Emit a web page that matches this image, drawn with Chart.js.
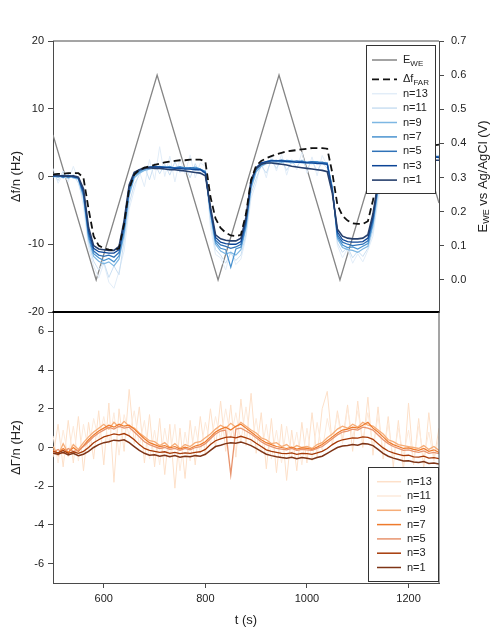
<!DOCTYPE html>
<html lang="en">
<head>
  <meta charset="UTF-8" />
  <title>EQCM frequency and dissipation response</title>
  <style>
    body {
      margin: 0;
      background-color: white;
    }
    .box {
      position: absolute;
      left: 0;
    }
  </style>
</head>
<body>
  <div class="box" style="top:0"><canvas id="top" width="494" height="330"></canvas></div>
  <div class="box" style="top:300px"><canvas id="bot" width="494" height="331"></canvas></div>

  <script src="https://cdn.jsdelivr.net/npm/chart.js"></script>
  <script>
    // time grid (s), one value every 10 s
    const tGrid = [];
    for (let t = 500; t <= 1260; t += 10) tGrid.push(t);

    // potential sweep E_WE (V vs Ag/AgCl), corners only
    const eTimes  = [500, 585, 705, 825, 945, 1065, 1185, 1260];
    const eValues = [0.425, 0.0, 0.6, 0.0, 0.6, 0.0, 0.6, 0.225];

    // Faradaic frequency change (Hz)
    const dfFar = [0.3, 0.4, 0.4, 0.5, 0.5, 0.5, -0.2, -4.8, -8.8, -10.2,
      -10.6, -10.8, -10.9, -10.6, -7.0, -1.8, 0.3, 1.0, 1.3, 1.5,
      1.7, 1.9, 2.1, 2.2, 2.3, 2.4, 2.4, 2.5, 2.5, 2.5,
      2.2, -3.0, -6.2, -7.6, -8.3, -8.7, -8.8, -8.6, -5.5, -0.5,
      1.6, 2.3, 2.7, 3.0, 3.3, 3.5, 3.7, 3.8, 3.9, 4.0,
      4.1, 4.2, 4.2, 4.2, 4.1, 0.5, -4.2, -5.8, -6.5, -6.9,
      -7.0, -7.0, -6.6, -3.5, 0.2, 2.0, 3.0, 3.5, 3.8, 4.0,
      4.2, 4.3, 4.4, 4.5, 4.6, 4.6, 4.7];

    // df/n per overtone (Hz)
    const df1 = [0.2, 0.1, 0.1, 0.0, 0.1, -0.1, -1.8, -7.5, -10.2, -10.7,
      -10.8, -10.9, -10.9, -10.3, -6.5, -1.2, 0.6, 1.0, 1.2, 1.3,
      1.2, 1.2, 1.1, 1.0, 1.0, 0.9, 0.8, 0.7, 0.6, 0.5,
      0.1, -4.5, -8.6, -9.2, -9.4, -9.5, -9.5, -9.1, -6.0, -0.5,
      1.2, 1.8, 2.0, 2.0, 1.9, 1.8, 1.7, 1.5, 1.4, 1.3,
      1.2, 1.1, 1.0, 0.9, 0.7, -2.5, -7.8, -8.8, -9.1, -9.2,
      -9.2, -9.1, -8.6, -5.5, -0.8, 1.2, 2.0, 2.3, 2.5, 2.6,
      2.6, 2.6, 2.6, 2.5, 2.5, 2.4, 2.4];
    const df3 = [0.1, 0.2, 0.0, 0.1, 0.0, -0.2, -2.2, -8.0, -10.6, -11.1,
      -11.2, -11.3, -11.3, -10.8, -7.0, -1.5, 0.5, 1.0, 1.2, 1.4,
      1.4, 1.4, 1.3, 1.3, 1.2, 1.2, 1.1, 1.1, 1.0, 1.0,
      0.5, -4.8, -9.0, -9.7, -9.9, -10.0, -10.0, -9.6, -6.4, -0.8,
      1.3, 2.0, 2.2, 2.3, 2.3, 2.3, 2.2, 2.2, 2.1, 2.1,
      2.0, 2.0, 1.9, 1.9, 1.8, -2.2, -8.2, -9.3, -9.6, -9.7,
      -9.7, -9.6, -9.1, -6.0, -1.0, 1.2, 2.2, 2.6, 2.8, 2.9,
      3.0, 3.0, 3.0, 2.9, 2.9, 2.9, 2.8];
    const df5 = [0.0, 0.1, -0.1, 0.2, -0.1, -0.2, -2.5, -8.4, -11.0, -11.6,
      -11.8, -11.6, -11.9, -11.2, -7.5, -1.9, 0.3, 0.9, 1.2, 1.3,
      1.5, 1.4, 1.4, 1.3, 1.3, 1.4, 1.2, 1.3, 1.2, 1.1,
      0.6, -5.0, -9.4, -10.1, -10.3, -10.6, -10.4, -10.0, -6.8, -1.0,
      1.2, 1.9, 2.2, 2.4, 2.3, 2.4, 2.3, 2.2, 2.3, 2.2,
      2.1, 2.2, 2.0, 2.1, 1.9, -2.0, -8.6, -9.7, -10.0, -10.2,
      -10.1, -10.0, -9.5, -6.4, -1.3, 1.0, 2.1, 2.6, 2.8, 3.0,
      3.0, 3.1, 3.0, 3.0, 2.9, 3.0, 2.9];
    const df7 = [0.1, -0.1, 0.2, -0.2, 0.1, -0.3, -2.8, -8.8, -11.4, -12.0,
      -12.4, -12.1, -12.6, -11.7, -8.0, -2.3, 0.1, 0.7, 1.1, 1.3,
      1.4, 1.5, 1.3, 1.5, 1.2, 1.4, 1.3, 1.2, 1.4, 1.1,
      0.7, -5.3, -9.7, -10.6, -10.8, -13.4, -10.7, -10.4, -7.2, -1.3,
      1.0, 1.7, 2.1, 2.3, 2.4, 2.2, 2.4, 2.3, 2.1, 2.3,
      2.1, 2.2, 2.2, 2.0, 2.0, -1.8, -8.9, -10.1, -10.5, -10.4,
      -10.7, -10.3, -9.9, -6.8, -1.6, 0.8, 2.0, 2.5, 2.8, 2.9,
      3.1, 3.0, 3.1, 2.9, 3.0, 2.9, 3.0];
    const df9 = [-0.1, 0.2, -0.2, 0.1, -0.2, -0.4, -3.0, -9.2, -11.8, -12.5,
      -12.9, -12.6, -13.2, -12.2, -8.6, -2.8, -0.2, 0.5, 0.9, 1.1,
      1.3, 1.2, 1.4, 1.2, 1.3, 1.1, 1.3, 1.1, 1.2, 1.0,
      0.8, -5.5, -10.0, -11.0, -11.4, -11.2, -11.6, -10.8, -7.6, -1.8,
      0.7, 1.5, 1.9, 2.1, 2.2, 2.1, 2.2, 2.0, 2.1, 2.0,
      2.0, 1.9, 2.1, 1.9, 1.8, -1.6, -9.2, -10.5, -10.8, -10.9,
      -11.2, -10.7, -10.3, -7.2, -2.0, 0.5, 1.8, 2.4, 2.7, 2.8,
      2.9, 3.0, 2.9, 2.9, 2.8, 2.9, 2.8];
    const df11 = [0.5, -0.6, 0.8, -0.4, 0.3, -1.0, -3.5, -9.8, -12.5, -13.8,
      -12.6, -14.9, -13.2, -14.5, -9.5, -4.0, -1.2, 0.2, 1.5, -0.5,
      2.0, 0.4, 1.8, 0.2, 2.2, 0.6, 1.4, -0.2, 1.9, 0.3,
      0.9, -6.5, -10.8, -11.6, -12.8, -11.3, -12.4, -11.6, -8.5, -2.5,
      -0.3, 1.6, 0.5, 2.4, 1.2, 2.6, 0.9, 2.2, 1.4, 2.5,
      1.1, 2.3, 0.8, 2.1, 1.2, -1.5, -9.8, -11.2, -10.4, -12.0,
      -11.0, -11.8, -10.6, -8.0, -2.8, 0.2, 1.5, 2.8, 2.0, 3.1,
      2.4, 3.3, 2.6, 3.0, 2.5, 3.2, 2.7];
    const df13 = [1.2, -1.0, 0.4, -0.8, 1.5, -0.5, -4.5, -10.5, -13.2, -15.0,
      -12.8, -15.6, -16.5, -14.0, -11.0, -4.8, -2.0, 0.8, -1.5, 2.5,
      -0.5, 4.4, 0.0, 3.0, -0.8, 2.6, 0.4, 3.2, -0.2, 2.0,
      1.5, -7.5, -11.5, -12.0, -13.8, -11.0, -13.0, -12.2, -9.0, -3.2,
      -1.0, 2.2, -0.2, 3.0, 0.8, 3.3, 0.2, 2.6, 1.0, 3.6,
      0.5, 2.9, 0.1, 3.1, 1.6, -1.2, -10.2, -12.0, -10.6, -12.8,
      -11.4, -12.6, -10.9, -8.8, -3.5, -0.2, 1.2, 3.2, 1.6, 3.6,
      2.0, 3.8, 2.2, 3.5, 2.1, 3.9, 2.5];

    // dGamma/n per overtone (Hz)
    const dg1 = [-0.30, -0.35, -0.25, -0.38, -0.30, -0.42, -0.35, -0.20, 0.00, 0.15,
      0.25, 0.30, 0.38, 0.35, 0.40, 0.25, 0.05, -0.15, -0.30, -0.40,
      -0.38, -0.45, -0.40, -0.48, -0.42, -0.50, -0.45, -0.48, -0.42, -0.45,
      -0.35, -0.15, 0.05, 0.12, 0.20, 0.25, 0.22, 0.28, 0.20, 0.10,
      -0.05, -0.20, -0.35, -0.42, -0.48, -0.52, -0.55, -0.50, -0.58, -0.52,
      -0.55, -0.60, -0.52, -0.45, -0.30, -0.15, 0.00, 0.08, 0.10, 0.15,
      0.12, 0.20, 0.18, 0.10, -0.10, -0.30, -0.45, -0.55, -0.62, -0.70,
      -0.68, -0.75, -0.78, -0.72, -0.82, -0.80, -0.85];
    const dg3 = [-0.20, -0.28, -0.15, -0.30, -0.22, -0.30, -0.20, 0.00, 0.25, 0.40,
      0.55, 0.62, 0.70, 0.65, 0.72, 0.60, 0.40, 0.15, -0.05, -0.15,
      -0.20, -0.25, -0.22, -0.30, -0.25, -0.32, -0.28, -0.30, -0.25, -0.22,
      -0.10, 0.15, 0.35, 0.45, 0.52, 0.55, 0.50, 0.58, 0.50, 0.40,
      0.22, 0.05, -0.12, -0.20, -0.25, -0.30, -0.32, -0.28, -0.35, -0.30,
      -0.32, -0.35, -0.28, -0.20, -0.05, 0.15, 0.30, 0.40, 0.45, 0.50,
      0.48, 0.55, 0.52, 0.42, 0.20, -0.02, -0.18, -0.28, -0.35, -0.42,
      -0.40, -0.48, -0.50, -0.45, -0.55, -0.52, -0.58];
    const dg5 = [-0.25, -0.10, -0.30, -0.05, -0.20, -0.15, 0.05, 0.30, 0.55, 0.75,
      0.90, 1.05, 0.95, 1.10, 1.00, 1.05, 0.80, 0.55, 0.30, 0.15,
      0.05, -0.05, 0.00, -0.10, -0.05, -0.15, -0.05, -0.12, 0.00, 0.05,
      0.20, 0.45, 0.70, 0.85, 0.90, -1.40, 0.95, 1.00, 0.85, 0.70,
      0.50, 0.30, 0.15, 0.05, -0.05, -0.08, -0.12, -0.05, -0.15, -0.10,
      -0.12, -0.15, -0.05, 0.05, 0.25, 0.45, 0.65, 0.80, 0.85, 0.95,
      0.90, 1.05, 1.00, 0.90, 0.65, 0.40, 0.20, 0.05, -0.05, -0.15,
      -0.12, -0.20, -0.25, -0.18, -0.30, -0.25, -0.32];
    const dg7 = [-0.15, -0.30, -0.05, -0.25, 0.00, -0.20, 0.10, 0.40, 0.65, 0.85,
      1.00, 1.15, 1.05, 1.20, 1.10, 1.15, 0.95, 0.70, 0.45, 0.25,
      0.15, 0.05, 0.10, -0.02, 0.05, -0.08, 0.02, -0.05, 0.08, 0.15,
      0.30, 0.55, 0.80, 0.95, 1.05, 0.90, 1.10, 1.20, 1.00, 0.80,
      0.60, 0.40, 0.25, 0.15, 0.05, 0.00, -0.05, 0.02, -0.08, -0.02,
      -0.05, -0.10, 0.02, 0.15, 0.35, 0.55, 0.75, 0.90, 0.95, 1.05,
      1.00, 1.15, 1.30, 1.00, 0.80, 0.55, 0.30, 0.15, 0.05, -0.05,
      -0.02, -0.10, -0.15, -0.05, -0.20, -0.12, -0.25];
    const dg9 = [0.05, -0.40, 0.20, -0.30, 0.15, -0.10, 0.25, 0.55, 0.80, 1.00,
      1.20, 0.95, 1.30, 1.05, 1.35, 1.10, 1.00, 0.75, 0.55, 0.35,
      0.30, 0.10, 0.25, 0.00, 0.20, -0.05, 0.15, 0.05, 0.25, 0.30,
      0.50, 0.70, 0.95, 1.15, 1.00, 1.25, 1.05, 1.30, 1.10, 0.90,
      0.75, 0.50, 0.40, 0.20, 0.25, 0.05, 0.15, -0.05, 0.10, 0.00,
      0.05, -0.05, 0.15, 0.25, 0.50, 0.70, 0.95, 1.10, 1.00, 1.20,
      1.05, 1.30, 1.15, 1.10, 0.90, 0.70, 0.40, 0.30, 0.15, 0.10,
      0.05, 0.00, -0.05, 0.10, -0.10, 0.05, -0.15];
    const dg11 = [0.60, -0.80, 0.90, -0.50, 1.10, -0.70, 1.20, -0.20, 1.50, 0.40,
      1.60, 0.20, 1.80, -0.40, 1.70, 0.60, 1.90, 0.10, 1.40, -0.60,
      0.90, -0.90, 1.00, -0.50, 1.20, -1.20, 0.80, -0.70, 1.10, -0.30,
      1.30, 0.20, 1.60, 0.40, 2.00, 0.50, 1.80, 0.30, 2.10, 0.10,
      1.50, -0.30, 1.20, -0.60, 0.90, -0.80, 1.10, -0.50, 0.80, -0.90,
      1.00, -0.70, 1.30, -0.20, 1.50, 0.30, 1.70, 0.20, 2.00, 0.50,
      1.90, 0.40, 1.80, 0.10, 1.60, -0.20, 1.20, -0.60, 1.00, -0.40,
      0.90, -0.80, 1.10, -0.50, 0.80, -0.70, 0.60];
    const dg13 = [-0.50, 1.20, -1.00, 1.40, -0.80, 1.60, -1.20, 1.30, -0.60, 1.90,
      -0.90, 2.30, -1.80, 2.00, -0.20, 3.00, 0.20, 2.10, -0.80, 1.70,
      -1.00, 1.50, -1.40, 1.20, -2.10, 1.00, -1.60, 1.40, -0.90, 1.60,
      -0.40, 2.00, 0.00, 2.40, -0.20, 2.20, -0.50, 2.50, 0.10, 2.80,
      -0.30, 1.80, -1.10, 1.50, -1.30, 1.20, -1.70, 0.90, -1.20, 1.30,
      -0.80, 1.80, -0.50, 2.00, 2.90, 0.10, 1.90, 0.40, 2.20, -0.20,
      2.40, 0.00, 2.60, -0.40, 2.10, -0.60, 1.60, -1.00, 1.40, -1.20,
      2.30, -0.90, 1.50, -1.10, 1.80, -0.60, 1.00];

    // tick values
    const xTicks = [600, 800, 1000, 1200];
    const dfTicks = [-20, -10, 0, 10, 20];
    const eTicks = [0, 0.1, 0.2, 0.3, 0.4, 0.5, 0.6, 0.7];
    const dgTicks = [-6, -4, -2, 0, 2, 4, 6];

    const FONT = '"Liberation Sans", Arial, sans-serif';
    const AX = '#4a4a4a';

    const pts = (arr) => arr.map((v, i) => ({ x: tGrid[i], y: v }));

    // text with _{sub} parts
    function richParts(s) {
      const parts = [];
      const re = /_\{([^}]*)\}/g;
      let last = 0, m;
      while ((m = re.exec(s))) {
        if (m.index > last) parts.push({ t: s.slice(last, m.index) });
        parts.push({ t: m[1], sub: true });
        last = re.lastIndex;
      }
      if (last < s.length) parts.push({ t: s.slice(last) });
      return parts;
    }
    function drawRich(ctx, s, x, y, size, align) {
      const parts = richParts(s);
      const subSize = Math.round(size * 0.7);
      let w = 0;
      parts.forEach(p => {
        ctx.font = (p.sub ? subSize : size) + 'px ' + FONT;
        p.w = ctx.measureText(p.t).width;
        w += p.w;
      });
      let cx = align === 'center' ? x - w / 2 : x;
      ctx.textAlign = 'left';
      ctx.textBaseline = 'middle';
      parts.forEach(p => {
        ctx.font = (p.sub ? subSize : size) + 'px ' + FONT;
        ctx.fillText(p.t, cx, p.sub ? y + size * 0.3 : y);
        cx += p.w;
      });
    }

    const framePlugin = {
      id: 'frame',
      afterDatasetsDraw(chart, args, opts) {
        const { ctx, chartArea: a } = chart;
        const seg = (x1, y1, x2, y2, c, w) => {
          ctx.beginPath();
          ctx.strokeStyle = c;
          ctx.lineWidth = w;
          ctx.moveTo(x1, y1);
          ctx.lineTo(x2, y2);
          ctx.stroke();
        };
        ctx.save();
        if (opts.top) seg(a.left, a.top, a.right, a.top, opts.top, opts.topWidth || 1);
        if (opts.right) seg(a.right, a.top, a.right, a.bottom, opts.right, 1);
        if (opts.bottom) seg(a.left - 0.5, a.bottom, a.right, a.bottom, opts.bottom, opts.bottomWidth || 1);
        if (opts.rightTitle) {
          ctx.fillStyle = '#222';
          ctx.translate(opts.rightTitleX, (a.top + a.bottom) / 2);
          ctx.rotate(-Math.PI / 2);
          drawRich(ctx, opts.rightTitle, 0, 0, 13, 'center');
        }
        ctx.restore();
      }
    };

    const legendPlugin = {
      id: 'subLegend',
      afterDraw(chart, args, opts) {
        if (!opts.items) return;
        const { ctx, chartArea: a } = chart;
        const L = opts;
        const left = a.right - L.rightGap - L.width;
        const top = L.anchor === 'top' ? a.top + L.gap : a.bottom - L.gap - L.height;
        ctx.save();
        ctx.fillStyle = 'white';
        ctx.fillRect(left, top, L.width, L.height);
        ctx.strokeStyle = '#333';
        ctx.lineWidth = 1;
        ctx.strokeRect(left + 0.5, top + 0.5, L.width - 1, L.height - 1);
        let y = top + L.first;
        L.items.forEach((label, k) => {
          const ds = chart.data.datasets.find(d => d.label === label);
          ctx.beginPath();
          ctx.strokeStyle = ds.borderColor;
          ctx.lineWidth = Math.max(ds.borderWidth, 1.5);
          ctx.setLineDash(ds.borderDash || []);
          ctx.moveTo(left + L.lineX, y);
          ctx.lineTo(left + L.lineX + L.lineLen, y);
          ctx.stroke();
          ctx.setLineDash([]);
          ctx.fillStyle = '#222';
          drawRich(ctx, label, left + L.textX, y, 11, 'left');
          const next = L.items[k + 1];
          y += next && next.includes('_{') ? L.subStep : L.step;
        });
        ctx.restore();
      }
    };

    const tickFont = { family: FONT, size: 11 };
    const titleFont = { family: FONT, size: 13 };
    const axisGrid = { drawOnChartArea: false, drawTicks: true, tickLength: 5, color: AX };
    const fixTicks = (vals) => (scale) => { scale.ticks = vals.map(v => ({ value: v })); };

    const line = (label, data, color, width, order, extra) => Object.assign({
      label: label, data: data, borderColor: color, backgroundColor: color,
      borderWidth: width, pointRadius: 0, tension: 0, fill: false, order: order
    }, extra || {});

    // ---- upper panel: df/n and E_WE ----
    new Chart(document.getElementById('top'), {
      type: 'line',
      data: {
        datasets: [
          line('E_{WE}', eTimes.map((t, i) => ({ x: t, y: eValues[i] })), '#858585', 1.3, 9, { yAxisID: 'yE' }),
          line('Δf_{FAR}', pts(dfFar), '#111', 1.8, 0, { borderDash: [7, 4] }),
          line('n=13', pts(df13), '#e2edf8', 1, 8),
          line('n=11', pts(df11), '#cadff2', 1, 7),
          line('n=9', pts(df9), '#7db7e3', 1.2, 6),
          line('n=7', pts(df7), '#4a93d0', 1.2, 5),
          line('n=5', pts(df5), '#2f72b8', 1.3, 4),
          line('n=3', pts(df3), '#0c4596', 1.3, 3),
          line('n=1', pts(df1), '#263f6c', 1.6, 2)
        ]
      },
      options: {
        responsive: false,
        animation: false,
        layout: { padding: { top: 41, bottom: 18, left: 0, right: 0 } },
        plugins: {
          legend: { display: false },
          tooltip: { enabled: false },
          frame: { top: AX, bottom: '#000', bottomWidth: 2, rightTitle: 'E_{WE} vs Ag/AgCl (V)', rightTitleX: 483 },
          subLegend: {
            items: ['E_{WE}', 'Δf_{FAR}', 'n=13', 'n=11', 'n=9', 'n=7', 'n=5', 'n=3', 'n=1'],
            anchor: 'top', gap: 4, rightGap: 3, width: 70, height: 149,
            first: 15, step: 14.4, subStep: 19.3, lineX: 6, lineLen: 25, textX: 37
          }
        },
        scales: {
          x: { type: 'linear', min: 500, max: 1260, display: false },
          y: {
            type: 'linear', position: 'left', min: -20, max: 20,
            afterBuildTicks: fixTicks(dfTicks),
            afterFit: (s) => { s.width = 53; },
            grid: axisGrid,
            border: { color: AX, width: 1 },
            ticks: { font: tickFont, color: '#222', padding: 4 },
            title: { display: true, text: 'Δf/n (Hz)', font: titleFont, color: '#222', padding: { top: 9, bottom: 0 } }
          },
          yE: {
            type: 'linear', position: 'right', min: -0.094, max: 0.7,
            afterBuildTicks: fixTicks(eTicks),
            afterFit: (s) => { s.width = 55; },
            grid: axisGrid,
            border: { color: AX, width: 1 },
            ticks: { font: tickFont, color: '#222', padding: 7, callback: (v) => v.toFixed(1) }
          }
        }
      },
      plugins: [framePlugin, legendPlugin]
    });

    // ---- lower panel: dGamma/n ----
    new Chart(document.getElementById('bot'), {
      type: 'line',
      data: {
        datasets: [
          line('n=13', pts(dg13), '#fde0c9', 1, 7),
          line('n=11', pts(dg11), '#fdeadb', 1, 6),
          line('n=9', pts(dg9), '#f6ad78', 1.3, 5),
          line('n=7', pts(dg7), '#ee7a2c', 1.2, 4),
          line('n=5', pts(dg5), '#e8946e', 1.3, 3),
          line('n=3', pts(dg3), '#a63a08', 1.3, 2),
          line('n=1', pts(dg1), '#7e3416', 1.5, 1)
        ]
      },
      options: {
        responsive: false,
        animation: false,
        layout: { padding: { top: 12, bottom: 0, left: 0, right: 55 } },
        plugins: {
          legend: { display: false },
          tooltip: { enabled: false },
          frame: { right: AX, top: '#000', topWidth: 2 },
          subLegend: {
            items: ['n=13', 'n=11', 'n=9', 'n=7', 'n=5', 'n=3', 'n=1'],
            anchor: 'bottom', gap: 1, rightGap: 0, width: 71, height: 115,
            first: 14.7, step: 14.3, subStep: 14.3, lineX: 9, lineLen: 24, textX: 39
          }
        },
        scales: {
          x: {
            type: 'linear', min: 500, max: 1260,
            afterBuildTicks: fixTicks(xTicks),
            afterFit: (s) => { s.height = 48; },
            grid: axisGrid,
            border: { color: AX, width: 1 },
            ticks: { font: tickFont, color: '#222', padding: 4, maxRotation: 0, callback: (v) => String(v) },
            title: { display: true, text: 't (s)', font: titleFont, color: '#222', padding: { top: 0, bottom: 3 } }
          },
          y: {
            type: 'linear', position: 'left', min: -7, max: 7,
            afterBuildTicks: fixTicks(dgTicks),
            afterFit: (s) => { s.width = 53; },
            grid: axisGrid,
            border: { color: AX, width: 1 },
            ticks: { font: tickFont, color: '#222', padding: 4 },
            title: { display: true, text: 'ΔΓ/n (Hz)', font: titleFont, color: '#222', padding: { top: 9, bottom: 0 } }
          }
        }
      },
      plugins: [framePlugin, legendPlugin]
    });
  </script>
</body>
</html>
